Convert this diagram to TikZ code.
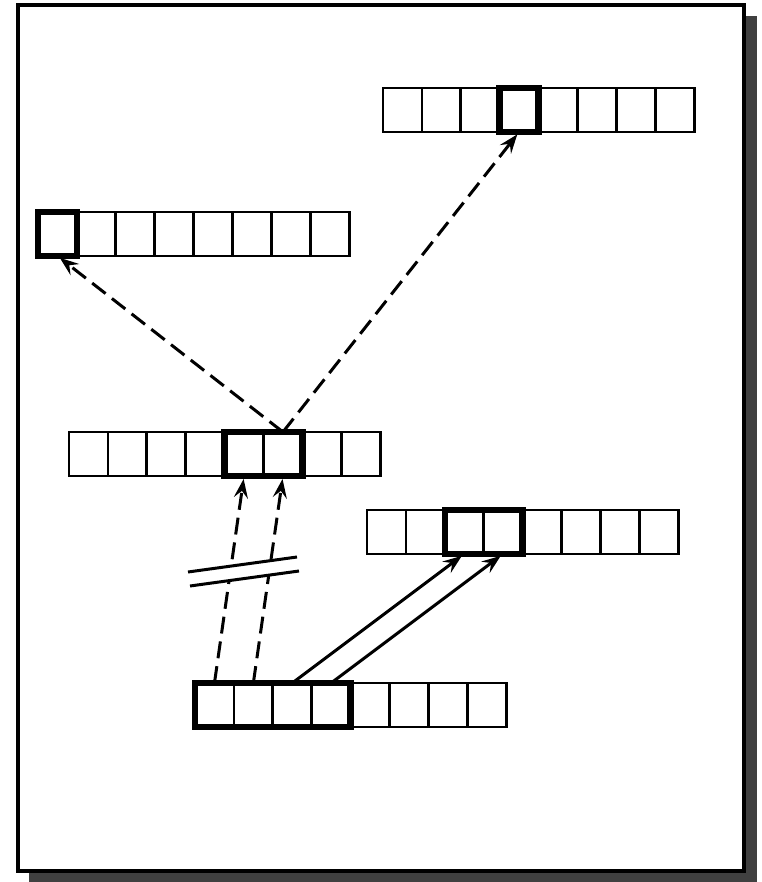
\documentclass[tikz,border=0pt]{standalone}
\usetikzlibrary{arrows.meta, positioning, calc}
\tikzstyle{cell} = [rectangle, draw=black, line width=2.8pt, minimum width=38.9pt, minimum height=44pt, inner sep=0pt, outer sep=0pt, fill=white]
\tikzstyle{hilite} = [draw=black, line width=6.5pt]
\tikzstyle{dasharrow} = [line width=3pt, dash pattern=on 17pt off 8pt, shorten >=3pt, -{Stealth[length=19pt, width=14pt, inset=7pt]}]
\tikzstyle{arrow} = [line width=3pt, shorten >=3pt, -{Stealth[length=19pt, width=14pt, inset=7pt]}]
% one row of eight cells: name, left x, top y
\newcommand{\cellrow}[3]{%
  \foreach \i in {1,...,8}
    \node (#1\i) [cell, anchor=north west] at ({#2+(\i-1)*38.9}, #3) {};
}

\begin{document}
\begin{tikzpicture}[x=1pt, y=-1pt]
        \useasboundingbox (0,0) rectangle (761,882);

        % Frame with shadow
        \fill[black!75] (29,16) rectangle (757,882);
        \draw[line width=3.5pt, fill=white] (18,5) rectangle (744,871);

        % Rows
        \cellrow{A}{383}{88}
        \cellrow{B}{38}{212}
        \cellrow{C}{69}{432}
        \cellrow{D}{367}{510}
        \cellrow{E}{195}{683}

        % Highlighted cells
        \draw[hilite] (A4.north west) rectangle (A4.south east);
        \draw[hilite] (B1.north west) rectangle (B1.south east);
        \draw[hilite] (C5.north west) rectangle (C6.south east);
        \draw[hilite] (D3.north west) rectangle (D4.south east);
        \draw[hilite] (E1.north west) rectangle (E4.south east);

        % Arrows
        \draw[dasharrow] (C6.north) -- (A4.south);
        \draw[dasharrow] (C6.north) -- (B1.south);
        \draw[dasharrow] (E1.north) -- (C5.south);
        \draw[dasharrow] (E2.north) -- (C6.south);
        \draw[arrow] (E3.north) -- (D3.south);
        \draw[arrow] (E4.north) -- (D4.south);

        % Break mark
        \coordinate (brkTL) at (188,572);
        \coordinate (brkTR) at (297,557);
        \coordinate (brkBL) at (190,586);
        \coordinate (brkBR) at (299,571);
        \fill[white] (brkTL) -- (brkTR) -- (brkBR) -- (brkBL) -- cycle;
        \draw[line width=3pt] (brkTL) -- (brkTR) (brkBL) -- (brkBR);

    \end{tikzpicture}
\end{document}
